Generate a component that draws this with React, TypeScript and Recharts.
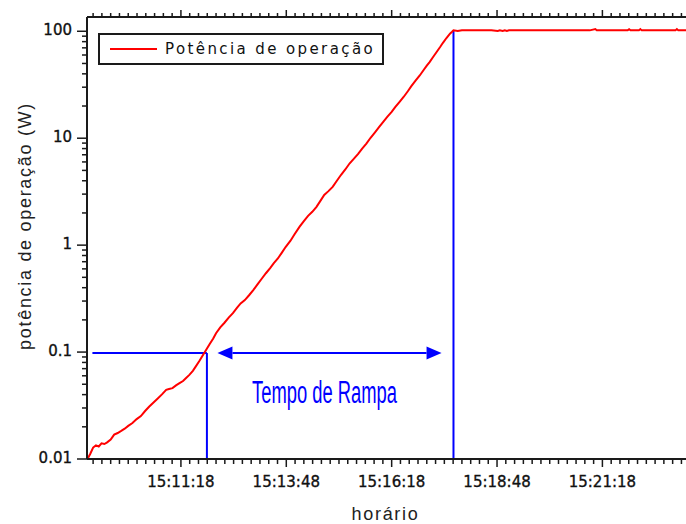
import React from 'react';
import { LineChart, Line, XAxis, YAxis, ReferenceLine, Legend } from 'recharts';

// Clock labels on the time axis (major ticks)
const majorTickLabels = ['15:11:18', '15:13:48', '15:16:18', '15:18:48', '15:21:18'];
// Decade labels on the log power axis
const decadeTicks = [0.01, 0.1, 1, 10, 100];

// Time of each sample, in seconds after 15:00:00
const timeSec = [
  545, 549, 553, 557, 561, 565, 569, 573, 578, 583, 588, 593, 598, 603, 609, 615, 621, 627, 633,
  639, 645, 651, 657, 661, 666, 671, 676, 681, 685, 690, 695, 699, 704, 709, 714, 719, 724, 728,
  734, 740, 746, 752, 758, 763, 769, 775, 781, 787, 793, 799, 805, 810, 816, 821, 827, 834, 840,
  847, 853, 859, 865, 871, 877, 882, 888, 894, 900, 906, 912, 918, 924, 930, 936, 942, 948, 954,
  960, 966, 972, 978, 983, 989, 995, 1001, 1006, 1012, 1018, 1023, 1028, 1032, 1037, 1042, 1047,
  1051, 1056, 1061, 1064, 1066, 1072, 1078, 1120, 1129, 1132, 1136, 1139, 1142, 1145, 1200, 1260,
  1268, 1270, 1314, 1316, 1318, 1330, 1332, 1334, 1382, 1384, 1386, 1397,
];

// Operating power (W) at each sample
const powerW = [
  0.01, 0.0112, 0.0128, 0.0134, 0.0131, 0.014, 0.0138, 0.0143, 0.0152, 0.0169, 0.0175, 0.0183,
  0.0192, 0.0204, 0.0217, 0.0236, 0.0252, 0.0281, 0.031, 0.0338, 0.0368, 0.0402, 0.0444, 0.0452,
  0.046, 0.0488, 0.0512, 0.0536, 0.057, 0.0612, 0.0668, 0.073, 0.082, 0.093, 0.105, 0.119, 0.134,
  0.15, 0.17, 0.188, 0.21, 0.231, 0.26, 0.285, 0.306, 0.34, 0.38, 0.43, 0.485, 0.546, 0.61, 0.675,
  0.75, 0.838, 0.96, 1.1, 1.27, 1.49, 1.68, 1.88, 2.05, 2.28, 2.62, 2.95, 3.2, 3.51, 4.0, 4.55, 5.1,
  5.8, 6.4, 7.1, 8.0, 8.9, 10.1, 11.3, 12.7, 14.2, 15.9, 17.6, 19.5, 21.8, 24.3, 27.5, 30.7, 34.5,
  38.6, 43.0, 47.8, 51.5, 57.5, 64.0, 71.2, 78.0, 86.5, 95.0, 99.0, 102, 100.5, 102, 102, 100.5,
  102, 100.5, 102, 100.5, 102, 102, 102, 105, 102, 102, 104.5, 102, 102, 105, 102, 102, 105, 102,
  102,
];

// Ramp annotation: start (0.1 W crossing) and end (100 W reached)
const rampStartSec = 715;
const rampEndSec = 1066;
const rampLevelW = 0.098;
const rampGuideStartSec = 552;
const rampLabel = 'Tempo de Rampa';

const seriesName = 'Potência de operação';
const yAxisTitle = 'potência de operação (W)';
const xAxisTitle = 'horário';

const BASE_SEC = 15 * 3600;
const toSec = (s: string) => {
  const [h, m, x] = s.split(':').map(Number);
  return h * 3600 + m * 60 + x - BASE_SEC;
};
const toClock = (t: number) => {
  const s = Math.round(t + BASE_SEC);
  const h = Math.floor(s / 3600);
  const m = Math.floor((s % 3600) / 60);
  const x = s % 60;
  return `${h}:${String(m).padStart(2, '0')}:${String(x).padStart(2, '0')}`;
};

const data = timeSec.map((t, i) => ({ t, p: powerW[i] }));

const X_MIN = 544.3;
const X_MAX = 1397;
const Y_MIN = 0.01;
const Y_MAX = 136;

const majorSec = majorTickLabels.map(toSec);
const MAJOR_STEP = 150;
const MINOR_STEP = MAJOR_STEP / 12;

// major + minor tick positions across the time domain
const xTicks: number[] = [];
for (let k = -20; k <= 80; k++) {
  const v = majorSec[0] + k * MINOR_STEP;
  if (v >= X_MIN && v <= X_MAX) xTicks.push(v);
}
const isMajorX = (v: number) => {
  const r = (v - majorSec[0]) / MAJOR_STEP;
  return Math.abs(r - Math.round(r)) < 1e-6;
};

const yTicks: number[] = [];
decadeTicks.slice(0, -1).forEach((d) => {
  for (let k = 1; k <= 9; k++) yTicks.push(+(d * k).toPrecision(3));
});
yTicks.push(decadeTicks[decadeTicks.length - 1]);
const isDecade = (v: number) => decadeTicks.some((d) => Math.abs(d - v) < d * 1e-6);

const AXIS = '#1a1a1a';
const TICK_FONT = 'DejaVu Sans, sans-serif';
const TITLE_FONT = 'Liberation Sans, Arial, sans-serif';

const BottomTick = (props: any) => {
  const { x, y, payload } = props;
  const major = isMajorX(payload.value);
  return (
    <g>
      <line x1={x} x2={x} y1={y} y2={y + (major ? 8 : 5)} stroke={AXIS} strokeWidth={1.5} />
      {major && (
        <text
          x={x}
          y={y + 28}
          textAnchor="middle"
          fontFamily={TICK_FONT}
          fontSize={15}
          fill="#111"
          stroke="#111"
          strokeWidth={0.35}
        >
          {toClock(payload.value)}
        </text>
      )}
    </g>
  );
};

const TopTick = (props: any) => {
  const { x, y, payload } = props;
  const major = isMajorX(payload.value);
  return <line x1={x} x2={x} y1={y} y2={y - (major ? 7 : 4)} stroke={AXIS} strokeWidth={1.5} />;
};

const LeftTick = (props: any) => {
  const { x, y, payload } = props;
  const major = isDecade(payload.value);
  return (
    <g>
      <line x1={x} x2={x - (major ? 10 : 5)} y1={y} y2={y} stroke={AXIS} strokeWidth={1.5} />
      {major && (
        <text
          x={x - 15}
          y={y + 4}
          textAnchor="end"
          fontFamily={TICK_FONT}
          fontSize={15}
          fill="#111"
          stroke="#111"
          strokeWidth={0.35}
        >
          {String(payload.value)}
        </text>
      )}
    </g>
  );
};

const YTitle = (props: any) => {
  const { viewBox } = props;
  const cx = viewBox.x + 31;
  const cy = viewBox.y + viewBox.height / 2 - 12;
  return (
    <text
      x={cx}
      y={cy}
      transform={`rotate(-90 ${cx} ${cy})`}
      textAnchor="middle"
      fontFamily={TITLE_FONT}
      fontSize={18}
      letterSpacing={1.7}
      fill="#222"
    >
      {yAxisTitle}
    </text>
  );
};

const XTitle = (props: any) => {
  const { viewBox } = props;
  return (
    <text
      x={viewBox.x + viewBox.width / 2 - 1}
      y={viewBox.y + 61}
      textAnchor="middle"
      fontFamily={TITLE_FONT}
      fontSize={18}
      letterSpacing={1.7}
      fill="#222"
    >
      {xAxisTitle}
    </text>
  );
};

const RampArrow = (props: any) => {
  const { x1, y1, x2 } = props;
  const head = 15;
  const half = 6.5;
  const blue = '#0000ff';
  return (
    <g>
      <line x1={x1 + head} y1={y1} x2={x2 - head} y2={y1} stroke={blue} strokeWidth={2} />
      <polygon points={`${x1},${y1} ${x1 + head},${y1 - half} ${x1 + head},${y1 + half}`} fill={blue} />
      <polygon points={`${x2},${y1} ${x2 - head},${y1 - half} ${x2 - head},${y1 + half}`} fill={blue} />
      <text
        x={(x1 + x2) / 2 - 5}
        y={y1 + 50}
        textAnchor="middle"
        fontFamily={TITLE_FONT}
        fontSize={31}
        textLength={145}
        lengthAdjust="spacingAndGlyphs"
        fill={blue}
      >
        {rampLabel}
      </text>
    </g>
  );
};

const LegendBox = () => (
  <div
    style={{
      boxSizing: 'border-box',
      width: 286,
      height: 32,
      border: `2px solid ${AXIS}`,
      background: '#fff',
      display: 'flex',
      alignItems: 'center',
    }}
  >
    <span style={{ display: 'inline-block', width: 47, height: 2, background: '#ff0000', marginLeft: 10 }} />
    <span
      style={{
        marginLeft: 8,
        fontFamily: TICK_FONT,
        fontSize: 15,
        letterSpacing: 2.4,
        color: '#111',
        whiteSpace: 'nowrap',
      }}
    >
      {seriesName}
    </span>
  </div>
);

export default function App() {
  return (
    <div style={{ position: 'absolute', left: 0, top: 0, width: 686, height: 524, background: '#fff' }}>
      <LineChart width={686} height={524} data={data} margin={{ top: 0, right: 0, bottom: 0, left: 0 }}>
        <XAxis
          dataKey="t"
          type="number"
          domain={[X_MIN, X_MAX]}
          allowDataOverflow
          ticks={xTicks}
          interval={0}
          height={65}
          tickLine={false}
          tickSize={0}
          tickMargin={0}
          tick={BottomTick}
          axisLine={{ stroke: AXIS, strokeWidth: 2 }}
          label={<XTitle />}
        />
        <XAxis
          xAxisId="top"
          orientation="top"
          dataKey="t"
          type="number"
          domain={[X_MIN, X_MAX]}
          allowDataOverflow
          ticks={xTicks}
          interval={0}
          height={17}
          tickLine={false}
          tickSize={0}
          tickMargin={0}
          tick={TopTick}
          axisLine={{ stroke: AXIS, strokeWidth: 2 }}
        />
        <YAxis
          type="number"
          scale="log"
          domain={[Y_MIN, Y_MAX]}
          allowDataOverflow
          ticks={yTicks}
          interval={0}
          width={87}
          tickLine={false}
          tickSize={0}
          tickMargin={0}
          tick={LeftTick}
          axisLine={{ stroke: AXIS, strokeWidth: 2 }}
          label={<YTitle />}
        />
        <Legend
          layout="vertical"
          align="center"
          verticalAlign="middle"
          wrapperStyle={{ position: 'absolute', left: 98, top: 33, width: 286, height: 32 }}
          content={LegendBox}
        />
        <ReferenceLine
          segment={[{ x: rampGuideStartSec, y: rampLevelW }, { x: rampStartSec, y: rampLevelW }]}
          stroke="#0000ff"
          strokeWidth={2}
        />
        <ReferenceLine
          segment={[{ x: rampStartSec, y: Y_MIN }, { x: rampStartSec, y: rampLevelW }]}
          stroke="#0000ff"
          strokeWidth={2}
        />
        <ReferenceLine
          segment={[{ x: rampEndSec, y: Y_MIN }, { x: rampEndSec, y: 102 }]}
          stroke="#0000ff"
          strokeWidth={2}
        />
        <ReferenceLine
          segment={[{ x: rampStartSec + 15, y: rampLevelW }, { x: rampEndSec - 17, y: rampLevelW }]}
          stroke="#0000ff"
          shape={RampArrow}
        />
        <Line
          name={seriesName}
          dataKey="p"
          type="linear"
          stroke="#ff0000"
          strokeWidth={2}
          dot={false}
          activeDot={false}
          isAnimationActive={false}
        />
      </LineChart>
    </div>
  );
}
